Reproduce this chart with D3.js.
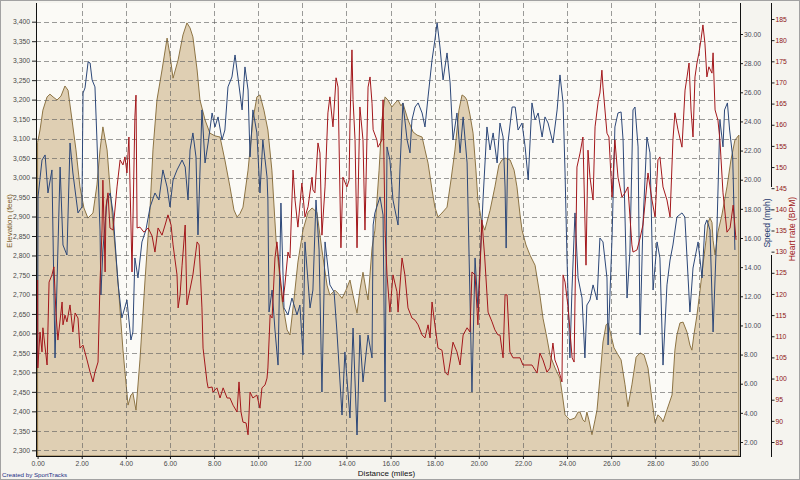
<!DOCTYPE html>
<html><head><meta charset="utf-8">
<script src="https://cdn.jsdelivr.net/npm/d3@7"></script>
<style>body{margin:0;background:#f5f4ef;} svg{display:block;font-family:"Liberation Sans",Arial,sans-serif;}</style>
</head><body><svg id="c" width="800" height="480"></svg>
<script>
const xTicks=[0,2,4,6,8,10,12,14,16,18,20,22,24,26,28,30];
const elevTicks=[2300,2350,2400,2450,2500,2550,2600,2650,2700,2750,2800,2850,2900,2950,3000,3050,3100,3150,3200,3250,3300,3350,3400];
const speedTicks=[2,4,6,8,10,12,14,16,18,20,22,24,26,28,30];
const hrTicks=[85,90,95,100,105,110,115,120,125,130,135,140,145,150,155,160,165,170,175,180,185];

const elevMiles=[0,0.11,0.24,0.43,0.56,0.70,0.88,1.06,1.24,1.38,
1.56,1.74,1.92,2.10,2.28,2.51,2.69,2.83,2.96,3.15,
3.29,3.42,3.64,3.87,4.10,4.23,4.32,4.46,4.64,4.87,
5.10,5.23,5.41,5.64,5.87,6.00,6.14,6.37,6.59,6.77,
6.91,7.04,7.23,7.36,7.59,7.81,8.04,8.27,8.49,8.72,
8.90,9.04,9.17,9.31,9.54,9.76,9.94,10.08,10.26,10.44,
10.62,10.81,11.08,11.31,11.44,11.62,11.80,12.03,12.26,12.44,
12.66,12.89,13.12,13.25,13.48,13.62,13.80,13.98,14.16,14.30,
14.48,14.61,14.75,14.89,14.98,15.16,15.29,15.48,15.61,15.75,
15.88,16.06,16.20,16.34,16.47,16.56,16.79,17.02,17.20,17.43,
17.56,17.70,17.88,18.01,18.15,18.33,18.56,18.74,18.92,19.10,
19.24,19.37,19.46,19.60,19.74,19.87,19.96,20.14,20.27,20.51,
20.73,20.91,21.05,21.19,21.42,21.60,21.73,21.87,21.96,22.14,
22.32,22.55,22.77,22.91,23.09,23.23,23.46,23.68,23.82,23.91,
24.13,24.36,24.50,24.59,24.72,24.81,24.90,24.99,25.13,25.27,
25.36,25.49,25.63,25.77,25.86,25.99,26.13,26.31,26.45,26.63,
26.76,26.94,27.13,27.31,27.49,27.67,27.85,27.99,28.12,28.26,
28.35,28.53,28.76,28.89,28.98,29.12,29.26,29.44,29.57,29.66,
29.75,29.89,30.03,30.16,30.30,30.39,30.48,30.57,30.62,30.71,
30.84,31.02,31.25,31.43,31.61,31.79];
const elevFeet=[3090,3122,3173,3207,3214,3207,3199,3209,3235,3224,
3148,3071,2976,2922,2896,2909,2981,3071,3130,3071,
2968,2880,2737,2557,2416,2442,2447,2403,2532,2737,
2924,3071,3199,3276,3358,3315,3255,3302,3366,3397,
3384,3361,3276,3199,3148,3114,3107,3104,3045,2976,
2917,2899,2907,2924,3019,3148,3207,3212,3173,3122,
3019,2839,2686,2609,2596,2686,2783,2865,2911,2922,
2911,2814,2724,2698,2711,2703,2690,2711,2737,2698,
2652,2711,2757,2711,2686,2819,2865,3019,3148,3207,
3199,3181,3191,3199,3184,3191,3148,3117,3109,3104,
3071,3037,2968,2924,2899,2909,2924,2994,3071,3173,
3212,3207,3199,3161,3114,3019,2942,2885,2865,2916,
2976,3032,3045,3050,3045,3019,2976,2904,2865,2827,
2801,2775,2698,2639,2588,2544,2511,2485,2429,2391,
2378,2383,2398,2398,2378,2373,2398,2378,2340,2378,
2404,2485,2578,2622,2627,2596,2563,2545,2532,2468,
2412,2468,2539,2550,2545,2511,2429,2371,2391,2383,
2373,2404,2442,2557,2596,2627,2629,2603,2570,2557,
2596,2647,2711,2775,2839,2885,2896,2885,2839,2801,
2860,2904,2976,3045,3096,3109];

const speedSeries=[[0,7.08],[0.02,18.82],[0.20,21.35],[0.34,21.70],[0.47,19.09],[0.65,20.67],[0.79,7.77],[1.02,20.87],[1.15,15.52],[1.33,14.83],
[1.47,22.52],[1.60,20.46],[1.83,17.72],[2.01,18.13],[2.06,25.95],[2.15,26.30],[2.29,28.08],[2.38,28.01],[2.47,26.85],[2.60,26.37],
[2.69,22.73],[2.83,16.55],[2.87,12.09],[2.96,15.18],[3.15,18.61],[3.29,19.09],[3.42,17.72],[3.64,12.98],[3.82,10.51],[4.05,11.75],
[4.23,9.00],[4.32,9.55],[4.41,14.63],[4.55,13.26],[4.73,15.73],[4.91,16.55],[5.10,18.13],[5.32,19.09],[5.50,18.61],[5.68,20.67],
[5.87,19.50],[6.00,18.13],[6.14,19.98],[6.32,20.67],[6.55,21.35],[6.69,20.87],[6.82,18.61],[6.91,22.04],[7.04,23.21],[7.18,21.56],
[7.27,16.21],[7.45,24.79],[7.59,21.15],[7.73,22.52],[7.91,24.58],[8.04,23.62],[8.18,24.31],[8.36,22.73],[8.49,23.41],[8.63,26.37],
[8.81,27.05],[8.95,28.56],[9.08,27.05],[9.27,24.79],[9.40,27.74],[9.54,26.16],[9.63,21.56],[9.76,24.79],[9.94,23.21],[10.08,19.09],
[10.21,22.73],[10.40,20.19],[10.44,18.61],[10.49,10.92],[10.63,12.43],[10.76,9.69],[10.90,7.28],[11.03,18.40],[11.17,11.20],[11.35,10.72],
[11.53,11.88],[11.76,10.72],[11.89,11.40],[12.03,7.97],[12.12,15.73],[12.35,11.20],[12.48,12.43],[12.62,18.61],[12.76,15.18],[12.89,5.43],
[13.03,15.73],[13.25,12.78],[13.44,12.30],[13.57,9.55],[13.80,3.85],[13.93,8.18],[14.16,3.65],[14.30,9.82],[14.48,2.48],[14.61,9.34],
[14.75,6.12],[14.98,9.34],[15.16,7.77],[15.21,16.89],[15.29,17.72],[15.52,18.82],[15.66,17.58],[15.75,4.75],[15.84,22.25],[15.97,21.35],
[16.11,18.61],[16.34,16.89],[16.43,20.87],[16.56,25.27],[16.75,22.73],[16.88,21.84],[16.97,24.10],[17.11,24.99],[17.25,25.27],[17.43,24.58],
[17.56,23.62],[17.70,25.68],[17.88,28.22],[18.01,29.59],[18.11,30.76],[18.24,29.11],[18.38,26.85],[18.56,28.70],[18.70,26.64],[18.83,22.73],
[19.01,24.58],[19.15,21.84],[19.29,24.31],[19.47,21.15],[19.69,5.43],[19.83,14.63],[19.96,11.20],[20.19,18.61],[20.37,23.62],[20.51,22.04],
[20.65,23.21],[20.83,21.15],[20.96,23.89],[21.10,22.93],[21.19,19.50],[21.24,15.31],[21.32,22.52],[21.51,24.99],[21.65,24.99],[21.78,23.41],
[21.96,23.89],[22.10,22.25],[22.24,19.98],[22.41,25.27],[22.55,24.10],[22.69,24.58],[22.87,22.93],[23.00,24.31],[23.14,23.89],[23.36,22.52],
[23.55,24.79],[23.68,27.19],[23.82,25.27],[23.91,20.46],[24.00,14.49],[24.13,7.77],[24.22,12.30],[24.36,17.72],[24.50,13.26],[24.68,11.88],
[24.81,7.77],[24.90,11.40],[25.04,11.75],[25.18,12.78],[25.36,11.75],[25.49,16.00],[25.63,15.73],[25.81,13.26],[25.86,8.66],[26.04,16.00],
[26.17,23.62],[26.31,24.58],[26.45,24.65],[26.54,22.73],[26.72,11.88],[26.85,15.04],[26.99,24.79],[27.08,24.99],[27.22,22.25],[27.31,9.34],
[27.44,16.89],[27.62,22.93],[27.76,21.84],[27.90,12.43],[28.08,15.73],[28.21,14.63],[28.35,7.28],[28.53,12.78],[28.67,14.49],[28.80,15.52],
[28.98,17.44],[29.21,17.72],[29.34,17.44],[29.57,10.92],[29.71,13.94],[29.94,15.73],[30.12,13.26],[30.25,16.89],[30.34,17.24],[30.48,16.55],
[30.62,9.55],[30.80,16.89],[30.93,24.10],[31.07,22.25],[31.14,24.79],[31.27,25.27],[31.37,23.41],[31.51,21.56],[31.61,15.18]];

const hrSeries=[[0,123.3],[0.01,102.5],[0.11,111.0],[0.20,106.3],[0.24,112.0],[0.43,103.2],[0.52,122.8],[0.65,124.5],[0.74,126.4],[0.83,115.7],
[0.92,109.1],[1.11,118.1],[1.15,112.7],[1.24,115.0],[1.33,113.4],[1.47,117.4],[1.60,111.0],[1.70,115.5],[1.83,114.3],[1.92,107.2],
[2.06,107.9],[2.24,104.4],[2.38,101.5],[2.51,99.2],[2.60,101.5],[2.74,103.9],[2.83,122.8],[2.92,135.1],[2.96,146.9],[3.06,125.2],
[3.10,140.6],[3.19,143.9],[3.28,135.6],[3.42,135.1],[3.60,145.3],[3.74,151.7],[3.87,150.5],[3.96,152.4],[4.05,148.6],[4.14,157.1],
[4.28,125.2],[4.41,161.8],[4.46,167.0],[4.51,135.6],[4.64,135.8],[4.82,134.6],[5.01,135.6],[5.19,133.7],[5.32,129.9],[5.46,135.6],
[5.64,133.9],[5.78,136.3],[5.91,138.7],[6.05,136.3],[6.14,131.6],[6.32,124.5],[6.37,116.7],[6.46,119.8],[6.55,126.8],[6.69,136.3],
[6.77,117.4],[6.86,119.8],[7.04,124.5],[7.23,132.3],[7.32,131.6],[7.45,116.7],[7.50,107.2],[7.68,99.2],[7.73,97.8],[7.91,98.0],
[7.95,96.8],[8.13,97.8],[8.27,95.4],[8.41,97.8],[8.59,95.4],[8.72,95.4],[8.86,93.7],[9.04,92.1],[9.13,99.2],[9.22,92.1],
[9.31,89.7],[9.45,89.5],[9.54,86.7],[9.63,96.8],[9.76,95.4],[9.94,96.1],[10.08,93.0],[10.17,97.8],[10.31,98.5],[10.40,100.1],
[10.44,102.5],[10.54,115.0],[10.63,114.3],[10.76,128.5],[10.85,132.3],[10.99,124.5],[11.12,118.1],[11.21,122.1],[11.35,129.9],[11.44,128.5],
[11.53,142.2],[11.58,149.3],[11.67,142.2],[11.80,135.8],[11.98,146.2],[12.12,138.2],[12.26,140.6],[12.44,147.6],[12.48,144.6],[12.57,143.9],
[12.71,155.7],[12.80,153.3],[12.89,133.9],[13.03,145.3],[13.16,162.8],[13.25,166.6],[13.39,159.5],[13.53,171.1],[13.62,168.9],[13.75,130.9],
[13.84,147.6],[14.02,145.3],[14.12,146.9],[14.16,160.4],[14.25,177.7],[14.30,165.9],[14.39,156.4],[14.48,130.9],[14.61,164.2],[14.75,156.4],
[14.84,135.1],[14.98,168.9],[15.07,171.3],[15.16,165.1],[15.21,158.8],[15.38,156.4],[15.43,154.7],[15.61,156.4],[15.66,165.9],[15.75,135.1],
[15.84,124.5],[15.97,115.7],[16.11,124.5],[16.29,120.5],[16.34,115.7],[16.52,128.5],[16.65,124.5],[16.79,116.7],[16.97,114.3],[17.11,113.8],
[17.25,112.7],[17.43,110.3],[17.56,109.6],[17.70,112.7],[17.79,109.6],[17.88,118.1],[18.01,112.7],[18.15,107.2],[18.33,106.7],[18.47,101.5],
[18.60,100.8],[18.70,103.9],[18.83,108.6],[19.01,106.3],[19.15,103.2],[19.29,110.3],[19.47,112.0],[19.60,111.0],[19.69,125.2],[19.83,124.5],
[19.96,112.7],[20.14,137.5],[20.27,128.5],[20.42,115.7],[20.60,113.4],[20.73,111.5],[20.87,110.3],[20.96,110.3],[21.10,104.9],[21.19,119.8],
[21.28,119.8],[21.41,106.3],[21.55,104.9],[21.87,104.9],[22.00,103.2],[22.41,103.2],[22.64,101.3],[22.77,106.0],[22.91,104.4],[23.09,101.5],
[23.23,102.5],[23.36,108.4],[23.45,104.4],[23.59,102.5],[23.77,99.2],[23.82,124.5],[23.91,122.8],[24.05,116.7],[24.23,104.9],[24.32,103.9],
[24.45,150.0],[24.59,153.3],[24.72,157.1],[24.86,126.8],[24.95,154.0],[25.04,147.6],[25.18,142.2],[25.27,159.5],[25.42,165.9],[25.49,167.5],
[25.58,172.9],[25.63,168.9],[25.81,158.0],[25.90,157.1],[26.04,142.9],[26.17,156.4],[26.31,147.6],[26.49,142.9],[26.63,143.9],[26.76,145.3],
[26.94,131.6],[26.99,129.9],[27.17,130.4],[27.31,133.2],[27.44,136.3],[27.67,148.6],[27.85,142.2],[27.99,138.2],[28.12,151.7],[28.21,152.4],
[28.35,145.3],[28.53,142.2],[28.67,138.2],[28.80,156.4],[28.89,162.8],[29.03,158.8],[29.21,154.7],[29.35,168.2],[29.44,171.3],[29.53,174.6],
[29.62,163.5],[29.71,157.1],[29.80,171.3],[29.89,174.6],[29.98,177.0],[30.07,180.0],[30.16,183.6],[30.25,179.3],[30.34,171.3],[30.43,173.7],
[30.57,172.2],[30.62,177.0],[30.71,163.5],[30.84,161.1],[30.93,156.4],[31.07,143.9],[31.25,134.6],[31.39,135.6],[31.53,141.0],[31.66,132.8]];

const svg=d3.select("#c");
const L=36,R=740,T=3,B=456;
const x=d3.scaleLinear().domain([0,30]).range([37.6,699.4]);
const yE=d3.scaleLinear().domain([2300,3400]).range([450.3,21.7]);
const yS=d3.scaleLinear().domain([2,30]).range([442,34]);
const yH=d3.scaleLinear().domain([85,185]).range([442,19]);
const px=v=>Math.round(v)+0.5;

svg.append("rect").attr("x",0.5).attr("y",0.5).attr("width",799).attr("height",479)
  .attr("fill","#f5f4ef").attr("stroke","#a2a2a2");
svg.append("rect").attr("x",L).attr("y",T).attr("width",R-L).attr("height",B-T).attr("fill","#fbfaf6");

svg.append("defs").append("clipPath").attr("id","clip")
  .append("rect").attr("x",L).attr("y",T).attr("width",R-L).attr("height",B-T);
const g=svg.append("g").attr("clip-path","url(#clip)");

const elevData=elevMiles.map((m,i)=>[m,elevFeet[i]]);
g.append("path").datum(elevData)
  .attr("d",d3.area().x(d=>x(d[0])).y0(B).y1(d=>yE(d[1])))
  .attr("fill","#dfcfb3").attr("stroke","#8d7444").attr("stroke-width",1);

const grid=g.append("g").attr("stroke","#5a5a5a").attr("stroke-opacity",0.6).attr("stroke-dasharray","5,3").attr("stroke-width",1);
grid.selectAll("line.h").data(elevTicks).join("line").attr("class","h")
  .attr("x1",L).attr("x2",R).attr("y1",d=>px(yE(d))).attr("y2",d=>px(yE(d)));
grid.selectAll("line.v").data(xTicks.filter(d=>d>0)).join("line").attr("class","v")
  .attr("y1",T).attr("y2",B).attr("x1",d=>px(x(d))).attr("x2",d=>px(x(d)));

g.append("path").datum(speedSeries)
  .attr("d",d3.line().x(d=>x(d[0])).y(d=>yS(d[1])))
  .attr("fill","none").attr("stroke","#2c4778").attr("stroke-width",1).attr("stroke-linejoin","round");
g.append("path").datum(hrSeries)
  .attr("d",d3.line().x(d=>x(d[0])).y(d=>yH(d[1])))
  .attr("fill","none").attr("stroke","#a3171b").attr("stroke-width",1).attr("stroke-linejoin","round");

function styleAxis(sel,color){
  sel.select(".domain").remove();
  sel.selectAll(".tick line").attr("stroke","#222");
  sel.selectAll(".tick text").attr("fill",color).attr("font-size",6.8).attr("font-family","Liberation Sans, Arial, sans-serif");
}
const aL=svg.append("g").attr("transform",`translate(${L},0)`)
  .call(d3.axisLeft(yE).tickValues(elevTicks).tickFormat(d3.format(",")).tickSize(4).tickPadding(2));
styleAxis(aL,"#4a4a4a");
const aB=svg.append("g").attr("transform",`translate(0,${B})`)
  .call(d3.axisBottom(x).tickValues(xTicks).tickFormat(d3.format(".2f")).tickSize(3).tickPadding(2));
styleAxis(aB,"#4a4a4a");
const aS=svg.append("g").attr("transform",`translate(${R},0)`)
  .call(d3.axisRight(yS).tickValues(speedTicks).tickFormat(d3.format(".2f")).tickSize(3).tickPadding(1));
styleAxis(aS,"#4a4a58");
const HX=771.5;
const aH=svg.append("g").attr("transform",`translate(${HX},0)`)
  .call(d3.axisRight(yH).tickValues(hrTicks).tickFormat(d3.format("d")).tickSize(3).tickPadding(1));
styleAxis(aH,"#8e1414");

const ax=svg.append("g").attr("stroke","#111").attr("stroke-width",1);
ax.append("line").attr("x1",L+0.5).attr("x2",L+0.5).attr("y1",T).attr("y2",B+1);
ax.append("line").attr("x1",L).attr("x2",R+0.5).attr("y1",B+0.5).attr("y2",B+0.5);
ax.append("line").attr("x1",R+0.5).attr("x2",R+0.5).attr("y1",T).attr("y2",B+1);
ax.append("line").attr("x1",HX).attr("x2",HX).attr("y1",T).attr("y2",187);
ax.append("line").attr("x1",HX).attr("x2",HX).attr("y1",255).attr("y2",B+1);

svg.append("text").attr("transform","translate(11.5,221) rotate(-90)").attr("text-anchor","middle")
  .attr("font-size",8).attr("fill","#80601f").text("Elevation (feet)");
svg.append("text").attr("transform","translate(769.5,223) rotate(-90)").attr("text-anchor","middle")
  .attr("font-size",8.5).attr("fill","#1f3a6e").text("Speed (mph)");
svg.append("text").attr("transform","translate(794.5,229) rotate(-90)").attr("text-anchor","middle")
  .attr("font-size",8.5).attr("fill","#a01818").text("Heart rate (BPM)");
svg.append("text").attr("x",386.5).attr("y",475.5).attr("text-anchor","middle")
  .attr("font-size",8).attr("fill","#111").text("Distance (miles)");
svg.append("text").attr("x",2).attr("y",476.5)
  .attr("font-size",6.2).attr("fill","#1c2f86").text("Created by SportTracks");
</script></body></html>
